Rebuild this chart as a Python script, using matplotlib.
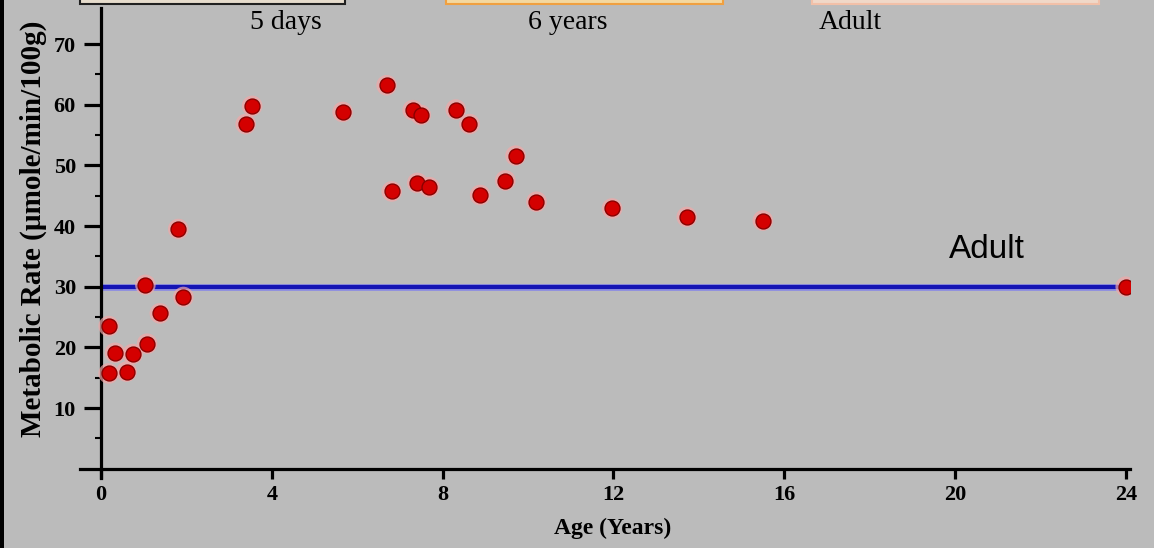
import numpy as np
import matplotlib.pyplot as plt
from matplotlib.patches import Rectangle

# metabolic rate vs age
age = [0.18, 0.18, 0.33, 0.60, 0.74, 1.08, 1.04, 1.38, 1.81, 1.93,
       3.39, 3.54, 5.66, 6.69, 6.81, 7.30, 7.49, 7.41, 7.69, 8.31,
       8.63, 8.88, 9.47, 9.71, 10.2, 11.97, 13.72, 15.5, 24.0]
rate = [15.7, 23.5, 19.1, 16.0, 18.9, 20.6, 30.3, 25.6, 39.5, 28.3,
        56.8, 59.8, 58.8, 63.2, 45.7, 59.1, 58.3, 47.1, 46.4, 59.2,
        56.8, 45.1, 47.5, 51.6, 44.0, 42.9, 41.5, 40.9, 30.0]

adult_rate = 30
adult_age = 24
x_ticks = [0, 4, 8, 12, 16, 20, 24]
y_ticks = [10, 20, 30, 40, 50, 60, 70]
y_minor = [5, 15, 25, 35, 45, 55, 65]
stage_labels = ['5 days', '6 years', 'Adult']
stage_x = [4.33, 10.94, 17.54]

bg = '#bbbbbb'
fig = plt.figure(figsize=(11.54, 5.48), dpi=100, facecolor=bg)

# black strip on the left and the cut-off picture frames at the top
fig.patches.append(Rectangle((0, 0), 4 / 1154, 1, transform=fig.transFigure,
                             facecolor='black', edgecolor='none'))
for x0, x1, ec, fc in [(80, 345, '#202020', '#e6dccc'),
                       (446, 723, '#f0a040', '#f4d8a0'),
                       (812, 1099, '#f2c0a8', '#f0d8c8')]:
    fig.patches.append(Rectangle((x0 / 1154, 544 / 548), (x1 - x0) / 1154, 6 / 548,
                                 transform=fig.transFigure, facecolor=fc,
                                 edgecolor=ec, lw=1.5))

ax = fig.add_axes([0.0690, 0.1281, 0.9102, 0.858])
ax.set_facecolor('none')
ax.set_xlim(-0.5, 24.1)
ax.set_ylim(-1.5, 76)

for s in ['top', 'right']:
    ax.spines[s].set_visible(False)
ax.spines['left'].set_position(('data', 0))
ax.spines['bottom'].set_position(('data', 0))
ax.spines['left'].set_bounds(-1.5, 76)
ax.spines['bottom'].set_bounds(-0.5, 24.1)
for s in ['left', 'bottom']:
    ax.spines[s].set_linewidth(2.3)
    ax.spines[s].set_color('black')

ax.set_xticks(x_ticks)
ax.set_yticks(y_ticks)
ax.set_yticks(y_minor, minor=True)
ax.tick_params(axis='y', which='major', length=12, width=2.3, pad=6)
ax.tick_params(axis='y', which='minor', length=4, width=1.5)
ax.tick_params(axis='x', which='major', length=7, width=2.3, pad=5)
for lab in ax.get_xticklabels() + ax.get_yticklabels():
    lab.set_fontfamily('Liberation Serif')
    lab.set_fontweight('bold')
    lab.set_fontsize(16)

# adult reference line
ax.hlines(adult_rate, 0, adult_age, color='#9090e0', lw=5, zorder=2)
ax.hlines(adult_rate, 0, adult_age, color='#1414b4', lw=3, zorder=2)
ax.text(20.75, 36.2, 'Adult', fontsize=24, family='Liberation Sans',
        ha='center', va='center')

# data points
ax.scatter(age, rate, s=220, c='#f2a8a8', edgecolors='none', alpha=0.7, zorder=3)
ax.scatter(age, rate, s=115, c='#d40000', edgecolors='#8a0000', linewidths=1, zorder=4)

for lbl, xs in zip(stage_labels, stage_x):
    ax.text(xs, 73.6, lbl, fontsize=20, family='Liberation Serif',
            ha='center', va='center')

ax.set_ylabel('Metabolic Rate (µmole/min/100g)', fontsize=21,
              family='Liberation Serif', fontweight='bold')
ax.yaxis.set_label_coords(-0.031, 0.53)
ax.set_xlabel('Age (Years)', fontsize=17, family='Liberation Serif',
              fontweight='bold')
ax.xaxis.set_label_coords(0.507, -0.086)

fig.savefig('out.png', dpi=100, facecolor=bg)
